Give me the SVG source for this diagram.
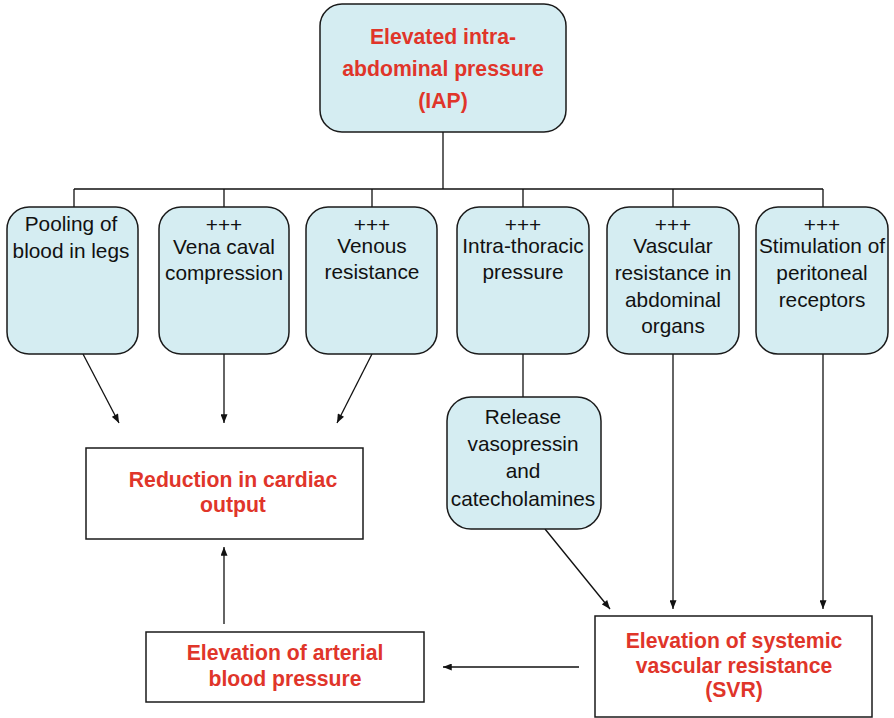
<svg xmlns="http://www.w3.org/2000/svg" width="894" height="718" viewBox="0 0 894 718">
<style>
.nb{fill:#d5edf2;stroke:#1a1a1a;stroke-width:1.5}
.wb{fill:#ffffff;stroke:#1a1a1a;stroke-width:1.5}
.t{font-family:"Liberation Sans",Arial,sans-serif;font-size:20.8px;fill:#111;text-anchor:middle}
.r{font-family:"Liberation Sans",Arial,sans-serif;font-size:21.2px;font-weight:bold;fill:#e0352a;text-anchor:middle}
.c{stroke:#111;stroke-width:1.3;fill:none}
.a{stroke:#111;stroke-width:1.3;fill:none;marker-end:url(#ah)}
</style>
<defs>
<marker id="ah" viewBox="0 0 10 8" refX="10" refY="4" markerWidth="10" markerHeight="7" markerUnits="userSpaceOnUse" orient="auto">
<path d="M0,0 L10,4 L0,8 Z" fill="#111"/>
</marker>
</defs>
<g id="connectors">
<path class="c" d="M443,132 V189 M74,189 H823 M74,189 V207 M224,189 V207 M372,189 V207 M523,189 V207 M673,189 V207 M823,189 V207"/>
<path class="c" d="M523,354 V397"/>
<path class="a" d="M83,354 L119,423"/>
<path class="a" d="M224,354 V423"/>
<path class="a" d="M372,354 L337,423"/>
<path class="a" d="M545,529 L610,609"/>
<path class="a" d="M673,354 V609"/>
<path class="a" d="M823,354 V609"/>
<path class="a" d="M579,667 H443"/>
<path class="a" d="M224,624 V547"/>
</g>
<g id="iap">
<rect class="nb" x="320" y="4" width="246" height="128" rx="22"/>
<text class="r" x="443" y="44">Elevated intra-</text>
<text class="r" x="443" y="76">abdominal pressure</text>
<text class="r" x="443" y="108">(IAP)</text>
</g>
<g id="pooling">
<rect class="nb" x="7" y="207" width="131" height="147" rx="22"/>
<text class="t" x="71" y="231">Pooling of</text>
<text class="t" x="71" y="258">blood in legs</text>
</g>
<g id="vena">
<rect class="nb" x="159" y="207" width="130" height="147" rx="22"/>
<text class="t" x="224" y="232">+++</text>
<text class="t" x="224" y="254">Vena caval</text>
<text class="t" x="224" y="280">compression</text>
</g>
<g id="venous">
<rect class="nb" x="306" y="207" width="131" height="147" rx="22"/>
<text class="t" x="372" y="232">+++</text>
<text class="t" x="372" y="253">Venous</text>
<text class="t" x="372" y="279">resistance</text>
</g>
<g id="thoracic">
<rect class="nb" x="457" y="207" width="132" height="147" rx="22"/>
<text class="t" x="523" y="232">+++</text>
<text class="t" x="523" y="253">Intra-thoracic</text>
<text class="t" x="523" y="279">pressure</text>
</g>
<g id="vascular">
<rect class="nb" x="607" y="207" width="132" height="147" rx="22"/>
<text class="t" x="673" y="232">+++</text>
<text class="t" x="673" y="253">Vascular</text>
<text class="t" x="673" y="280">resistance in</text>
<text class="t" x="673" y="307">abdominal</text>
<text class="t" x="673" y="333">organs</text>
</g>
<g id="peritoneal">
<rect class="nb" x="756" y="207" width="132" height="147" rx="22"/>
<text class="t" x="822" y="232">+++</text>
<text class="t" x="822" y="253">Stimulation of</text>
<text class="t" x="822" y="280">peritoneal</text>
<text class="t" x="822" y="307">receptors</text>
</g>
<g id="release">
<rect class="nb" x="447" y="397" width="154" height="132" rx="24"/>
<text class="t" x="523" y="424">Release</text>
<text class="t" x="523" y="451">vasopressin</text>
<text class="t" x="523" y="478">and</text>
<text class="t" x="523" y="506">catecholamines</text>
</g>
<g id="cardiac">
<rect class="wb" x="86" y="448" width="277" height="91"/>
<text class="r" x="233" y="487">Reduction in cardiac</text>
<text class="r" x="233" y="512">output</text>
</g>
<g id="svr">
<rect class="wb" x="595" y="616" width="277" height="101"/>
<text class="r" x="734" y="648">Elevation of systemic</text>
<text class="r" x="734" y="673">vascular resistance</text>
<text class="r" x="734" y="697">(SVR)</text>
</g>
<g id="arterial">
<rect class="wb" x="146" y="632" width="278" height="70"/>
<text class="r" x="285" y="660">Elevation of arterial</text>
<text class="r" x="285" y="686">blood pressure</text>
</g>
</svg>
